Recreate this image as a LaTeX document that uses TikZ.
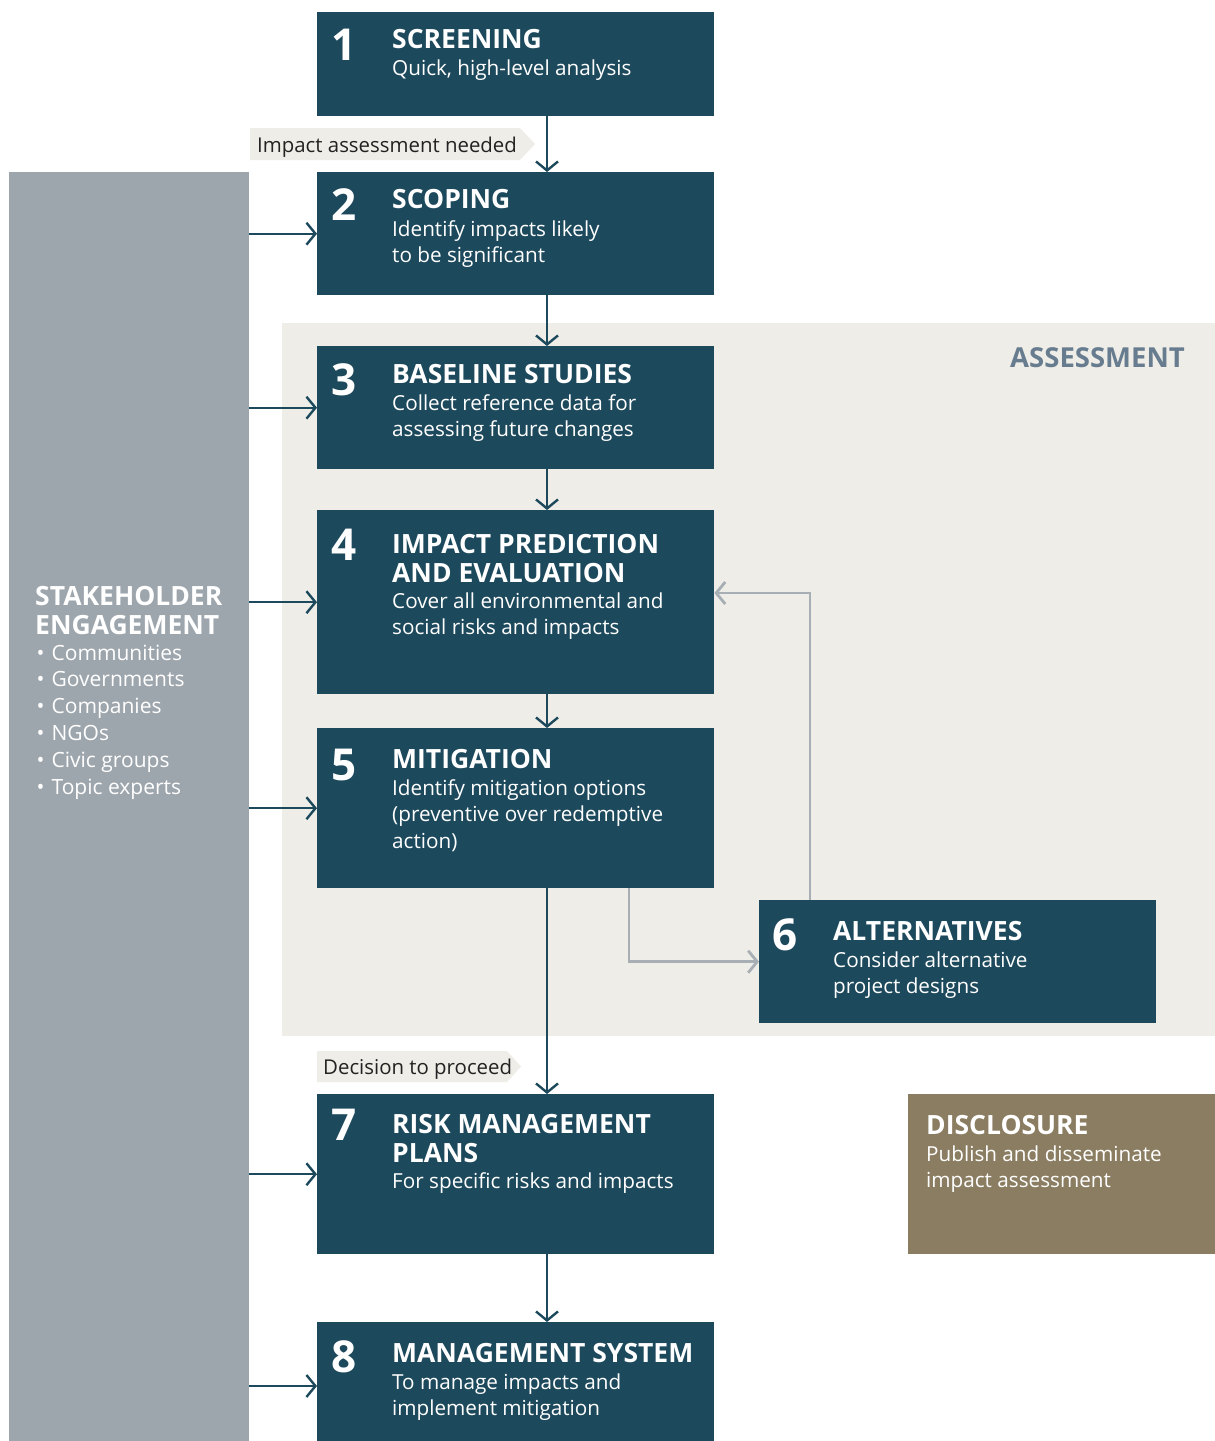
\documentclass[tikz,border=0pt]{standalone}
\usepackage{fontspec}
\setmainfont{Open Sans}
\usetikzlibrary{arrows.meta}
\definecolor{boxblue}{HTML}{1D495C}
\definecolor{shgray}{HTML}{9EA6AD}
\definecolor{assessbg}{HTML}{EFEDE8}
\definecolor{assesstxt}{HTML}{677D8F}
\definecolor{linkgray}{HTML}{A7AFB5}
\definecolor{discbrown}{HTML}{8B7D61}
\definecolor{tagtxt}{HTML}{222222}
\newcommand{\shbul}{\hspace{1.5pt}\textbullet\hspace{7pt}}
\tikzset{
  box/.style={fill=boxblue, draw=none, inner sep=0pt, anchor=north west, minimum width=397pt},
  num/.style={anchor=base west, inner sep=0pt, text=white, font=\fontsize{44}{44}\selectfont\bfseries},
  ttl/.style={anchor=base west, inner sep=0pt, text=white, align=left, font=\fontsize{26.5}{29}\selectfont\bfseries},
  body/.style={anchor=base west, inner sep=0pt, text=white, align=left, font=\fontsize{20.7}{26.5}\selectfont},
  tagtext/.style={anchor=base west, inner sep=0pt, text=tagtxt, font=\fontsize{20.4}{24}\selectfont},
  arr/.style={draw=boxblue, line width=2.4pt, -{Straight Barb[length=9pt,width=22pt,line width=2.4pt]}},
  garr/.style={draw=linkgray, line width=2.8pt, -{Straight Barb[length=9pt,width=22pt,line width=2.8pt]}},
}
\begin{document}
\begin{tikzpicture}[x=1pt,y=-1pt]
\useasboundingbox (0,0) rectangle (1215,1441);
\fill[white] (0,0) rectangle (1215,1441);
% backgrounds
\node[fill=assessbg, inner sep=0pt, anchor=north west, minimum width=933pt, minimum height=713pt] (assess) at (282,323) {};
\node[anchor=base east, inner sep=0pt, text=assesstxt, font=\fontsize{27.5}{29}\selectfont\bfseries] (assesslbl) at (1185,367) {ASSESSMENT};
\node[fill=shgray, inner sep=0pt, anchor=north west, minimum width=240pt, minimum height=1269pt] (sh) at (9,172) {};
\node[ttl] (shttl) at (35,634) {STAKEHOLDER\\ENGAGEMENT};
\node[anchor=base west, inner sep=0pt, text=white, align=left, font=\fontsize{21}{26.8}\selectfont] (shlist) at (35,794)
  {\shbul Communities\\\shbul Governments\\\shbul Companies\\\shbul NGOs\\\shbul Civic groups\\\shbul Topic experts};
% boxes
\node[box, minimum height=104pt] (b1) at (317,12) {};
\node[box, minimum height=123pt] (b2) at (317,172) {};
\node[box, minimum height=123pt] (b3) at (317,346) {};
\node[box, minimum height=184pt] (b4) at (317,510) {};
\node[box, minimum height=160pt] (b5) at (317,728) {};
\node[box, minimum height=123pt] (b6) at (759,900) {};
\node[box, minimum height=160pt] (b7) at (317,1094) {};
\node[box, minimum height=119pt] (b8) at (317,1322) {};
\node[fill=discbrown, inner sep=0pt, anchor=north west, minimum width=307pt, minimum height=160pt] (disc) at (908,1094) {};
% texts (multi-line nodes are placed by their last baseline)
\node[num] (n1) at (331,60) {1};
\node[ttl] (t1) at (392,48) {SCREENING};
\node[body] (d1) at (392,75) {Quick, high-level analysis};
\node[num] (n2) at (331,220) {2};
\node[ttl] (t2) at (392,208) {SCOPING};
\node[body] (d2) at (392,262.5) {Identify impacts likely\\to be significant};
\node[num] (n3) at (331,395) {3};
\node[ttl] (t3) at (392,383) {BASELINE STUDIES};
\node[body] (d3) at (392,436.5) {Collect reference data for\\assessing future changes};
\node[num] (n4) at (331,560) {4};
\node[ttl] (t4) at (392,582) {IMPACT PREDICTION\\AND EVALUATION};
\node[body] (d4) at (392,634.5) {Cover all environmental and\\social risks and impacts};
\node[num] (n5) at (331,780) {5};
\node[ttl] (t5) at (392,768) {MITIGATION};
\node[body] (d5) at (392,848) {Identify mitigation options\\(preventive over redemptive\\action)};
\node[num] (n6) at (772,950) {6};
\node[ttl] (t6) at (833,940) {ALTERNATIVES};
\node[body] (d6) at (833,993.5) {Consider alternative\\project designs};
\node[num] (n7) at (331,1140) {7};
\node[ttl] (t7) at (392,1162) {RISK MANAGEMENT\\PLANS};
\node[body] (d7) at (392,1188) {For specific risks and impacts};
\node[num] (n8) at (331,1372) {8};
\node[ttl] (t8) at (392,1362) {MANAGEMENT SYSTEM};
\node[body] (d8) at (392,1415.5) {To manage impacts and\\implement mitigation};
\node[ttl] (tdisc) at (926,1134) {DISCLOSURE};
\node[body] (ddisc) at (926,1187.5) {Publish and disseminate\\impact assessment};
% tags
\fill[assessbg] (250,128) -- (520,128) -- (535,144) -- (520,160) -- (250,160) -- cycle;
\node[tagtext] (tag1) at (257,152) {Impact assessment needed};
\fill[assessbg] (317,1051) -- (507,1051) -- (521,1066.5) -- (507,1082) -- (317,1082) -- cycle;
\node[tagtext] (tag2) at (323,1074) {Decision to proceed};
% main flow arrows
\coordinate (ax) at (547,0);
\draw[arr] (b1.south -| ax) -- (b2.north -| ax);
\draw[arr] (b2.south -| ax) -- (b3.north -| ax);
\draw[arr] (b3.south -| ax) -- (b4.north -| ax);
\draw[arr] (b4.south -| ax) -- (b5.north -| ax);
\draw[arr] (b5.south -| ax) -- (b7.north -| ax);
\draw[arr] (b7.south -| ax) -- (b8.north -| ax);
% stakeholder arrows
\foreach \b in {b2,b3,b4,b5,b7}{
  \draw[arr] (sh.east |- \b.west) -- (\b.west);
}
\draw[arr] (sh.east |- 0,1386) -- (b8.west |- 0,1386);
% feedback loop
\coordinate (gx1) at (629,0);
\coordinate (gx2) at (810,0);
\coordinate (gy) at (0,593);
\draw[garr] (b5.south -| gx1) |- (b6.west);
\draw[garr] (b6.north -| gx2) |- (b4.east |- gy);
\end{tikzpicture}
\end{document}
